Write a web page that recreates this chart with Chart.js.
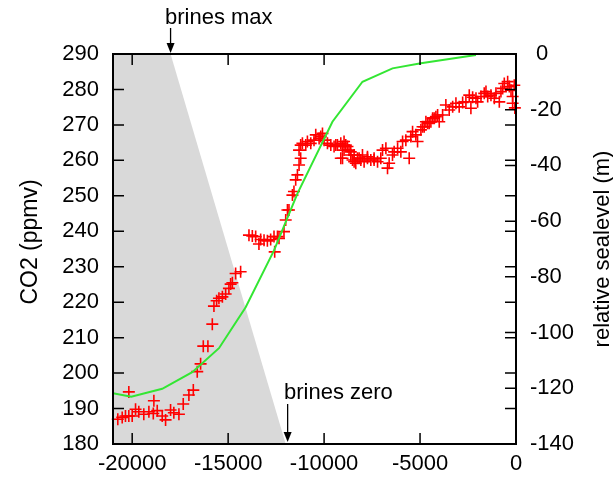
<!DOCTYPE html>
<html><head><meta charset="utf-8">
<script src="https://cdn.jsdelivr.net/npm/chart.js@4/dist/chart.umd.min.js"></script>
<style>html,body{margin:0;padding:0;background:#fff;}#wrap{width:613px;height:481px;}</style>
</head><body><div id="wrap"><canvas id="c" width="613" height="481"></canvas></div>
<script>
// CO2 record (years, ppmv)
const co2Years = [-20750,-20520,-20350,-20175,-20175,-20000,-19825,-19655,-19395,-19130,-18900,-18870,-18695,-18435,-18260,-18000,-17830,-17565,-17340,-17045,-16815,-16610,-16435,-16295,-16055,
-15825,-15740,-15600,-15480,-15300,-15130,-14960,-14870,-14780,-14610,-14350,
-13915,-13740,-13565,-13395,-13305,-13130,-12955,-12785,-12610,-12575,-12430,-12350,-12090,
-12000,-11910,-11830,-11650,-11570,-11480,-11390,-11305,-11220,-11305,-11220,-11130,-10955,-10870,-10695,-10525,-10435,-10260,-10175,-10085,-10000,-9825,-9650,-9480,-9390,-9305,-9130,-9130,-9045,-9040,-8960,-8960,-8870,-8780,-8700,-8610,-8610,-8520,-8435,-8435,-8350,-8260,-8175,-8085,-8000,-7915,-7740,-7740,-7565,-7395,-7395,-7215,-7045,-6955,-6780,-6695,-6610,-6435,-6350,-6170,-6000,-5910,-5740,-5565,-5480,-5390,-5220,-5130,-4955,-4870,-4785,-4695,-4605,-4525,-4435,-4345,-4265,-4175,-4085,-4000,-3825,-3655,-3480,-3300,-3130,-2960,-2780,-2610,-2435,-2350,-2260,-2085,-2000,-1825,-1655,-1565,-1475,-1305,-1130,-1045,-870,-785,-695,-610,-435,-350,-260,-175,-175,-90,-60];
const co2Values = [187.0,187.5,187.9,187.9,194.7,187.9,189.8,189.1,188.4,189.1,188.6,192.2,189.4,187.9,186.8,189.6,188.8,188.4,191.3,193.8,195.2,200.4,202.6,207.6,207.6,
213.8,218.9,220.4,221.1,221.5,222.3,223.9,225.1,225.5,228.1,228.6,
238.9,238.7,238.5,236.4,237.7,237.5,237.3,237.7,238.5,234.2,238.5,238.0,239.9,
243.2,246.0,246.0,250.2,251.2,254.5,255.9,258.7,260.6,262.9,264.3,264.8,264.3,265.3,264.8,265.7,267.2,266.2,266.7,267.6,265.7,264.8,264.3,263.9,264.3,264.3,260.6,264.8,263.9,260.6,262.9,265.3,264.3,263.9,262.9,261.5,262.4,260.1,259.6,261.5,259.2,260.6,260.6,260.1,261.5,259.6,260.6,261.0,260.1,260.1,260.6,259.6,260.6,262.9,263.4,257.8,259.2,261.5,262.4,263.4,262.4,265.3,265.7,260.6,266.7,268.1,267.2,265.3,268.6,269.5,269.5,270.9,270.5,270.5,270.9,271.9,271.9,272.3,272.8,270.9,272.8,275.6,274.2,275.1,276.1,275.1,276.3,276.5,278.4,274.7,277.8,277.5,276.5,278.0,278.9,279.4,278.0,278.4,277.5,278.9,276.5,279.4,280.3,281.7,282.2,280.8,279.8,278.0,276.1,281.2,274.8];
// Relative sea level (years, m)
const seaYears = [-21000,-20050,-18435,-16870,-15478,-14087,-12609,-11391,-9565,-8000,-6435,-4957,-2087];
const seaLevels = [-121.8,-123.0,-120.2,-114.2,-105.6,-90.9,-70.5,-50.1,-24.3,-9.95,-5.15,-3.36,-0.36];
// Brines shading (years, CO2-axis value)
const brinesYears = [-21000,-18000,-12000];
const brinesValues = [290,290,180];
// Ticks
const xTicks = [-20000,-15000,-10000,-5000,0];
const yTicks = [180,190,200,210,220,230,240,250,260,270,280,290];
const y2Ticks = [-140,-120,-100,-80,-60,-40,-20,0];
// Annotations
const annMaxYear = -18000, annZeroYear = -11900;
const annMaxText = 'brines max', annZeroText = 'brines zero';
const leftTitle = 'CO2 (ppmv)', rightTitle = 'relative sealevel (m)';

const FONT = "'Liberation Sans', Arial, sans-serif";
const tickFont = {family: FONT, size: 22};

const framePlugin = {
  id: 'frame',
  afterDatasetsDraw(chart) {
    const {ctx, chartArea: a, scales} = chart;
    ctx.save();
    ctx.strokeStyle = '#000';
    ctx.lineWidth = 1.5;
    ctx.beginPath();
    const tl = 11;
    xTicks.forEach(v => {
      const p = scales.x.getPixelForValue(v);
      ctx.moveTo(p, a.bottom); ctx.lineTo(p, a.bottom - tl);
      ctx.moveTo(p, a.top); ctx.lineTo(p, a.top + tl);
    });
    yTicks.forEach(v => {
      const p = scales.y.getPixelForValue(v);
      ctx.moveTo(a.left, p); ctx.lineTo(a.left + tl, p);
      ctx.moveTo(a.right, p); ctx.lineTo(a.right - tl, p);
    });
    y2Ticks.forEach(v => {
      const p = scales.y2.getPixelForValue(v);
      ctx.moveTo(a.right, p); ctx.lineTo(a.right - tl, p);
    });
    ctx.stroke();
    ctx.lineWidth = 2;
    ctx.strokeRect(a.left, a.top, a.right - a.left, a.bottom - a.top);

    // annotations
    const arrow = (x, y1, y2) => {
      ctx.beginPath(); ctx.lineWidth = 1.3;
      ctx.moveTo(x, y1); ctx.lineTo(x, y2 - 6); ctx.stroke();
      ctx.beginPath(); ctx.moveTo(x - 4, y2 - 10); ctx.lineTo(x + 4, y2 - 10); ctx.lineTo(x, y2); ctx.closePath();
      ctx.fillStyle = '#000'; ctx.fill();
    };
    const xm = scales.x.getPixelForValue(annMaxYear);
    const xz = scales.x.getPixelForValue(annZeroYear);
    arrow(xm, 28, scales.y.getPixelForValue(290) - 1);
    arrow(xz, 404, scales.y.getPixelForValue(180) - 2);
    ctx.fillStyle = '#000';
    ctx.font = "22px " + FONT;
    ctx.textAlign = 'left'; ctx.textBaseline = 'alphabetic';
    ctx.fillText(annMaxText, 165, 24);
    ctx.fillText(annZeroText, 284, 399);

    // axis titles
    ctx.textAlign = 'center'; ctx.textBaseline = 'middle';
    ctx.save(); ctx.translate(603, (a.top + a.bottom) / 2); ctx.rotate(-Math.PI / 2);
    ctx.fillText(rightTitle, 0, 0); ctx.restore();
    ctx.font = "23px " + FONT;
    ctx.save(); ctx.translate(31, 242); ctx.rotate(-Math.PI / 2);
    ctx.fillText(leftTitle, 0, 0); ctx.restore();
    ctx.restore();
  }
};

const ctx = document.getElementById('c').getContext('2d');
new Chart(ctx, {
  type: 'scatter',
  data: {
    datasets: [
      {
        type: 'line', label: 'brines', yAxisID: 'y', order: 3,
        data: brinesYears.map((x, i) => ({x, y: brinesValues[i]})),
        fill: 'start', backgroundColor: '#d9d9d9', borderWidth: 0, borderColor: 'rgba(0,0,0,0)',
        pointRadius: 0, tension: 0
      },
      {
        type: 'scatter', label: 'CO2', yAxisID: 'y', order: 2,
        data: co2Years.map((x, i) => ({x, y: co2Values[i]})),
        pointStyle: 'cross', pointRadius: 6, borderColor: '#ff0000', backgroundColor: '#ff0000',
        borderWidth: 1.6, clip: 8
      },
      {
        type: 'line', label: 'sealevel', yAxisID: 'y2', order: 1,
        data: seaYears.map((x, i) => ({x, y: seaLevels[i]})),
        borderColor: '#33e633', borderWidth: 2, pointRadius: 0, fill: false, tension: 0
      }
    ]
  },
  options: {
    responsive: false, animation: false, devicePixelRatio: 1, events: [],
    layout: {padding: {top: 54, left: 0, right: 0, bottom: 0}},
    plugins: {legend: {display: false}, tooltip: {enabled: false}, title: {display: false}},
    scales: {
      x: {
        type: 'linear', position: 'bottom', min: -21000, max: 0,
        afterBuildTicks: s => { s.ticks = xTicks.map(v => ({value: v})); },
        afterFit: s => { s.height = 37; },
        grid: {display: false, drawTicks: false}, border: {display: false},
        ticks: {font: tickFont, color: '#000', padding: 7, maxRotation: 0, autoSkip: false,
          callback: v => String(v)}
      },
      y: {
        type: 'linear', position: 'left', min: 180, max: 290,
        afterBuildTicks: s => { s.ticks = yTicks.map(v => ({value: v})); },
        afterFit: s => { s.width = 113; },
        grid: {display: false, drawTicks: false}, border: {display: false},
        ticks: {font: tickFont, color: '#000', padding: 14, callback: v => String(v)}
      },
      y2: {
        type: 'linear', position: 'right', min: -140, max: 0,
        afterBuildTicks: s => { s.ticks = y2Ticks.map(v => ({value: v})); },
        afterFit: s => { s.width = 97; },
        grid: {display: false, drawTicks: false}, border: {display: false},
        ticks: {font: tickFont, color: '#000', padding: 14, callback: v => v === 0 ? ' 0' : String(v)}
      }
    }
  },
  plugins: [framePlugin]
});
</script>
</body></html>
